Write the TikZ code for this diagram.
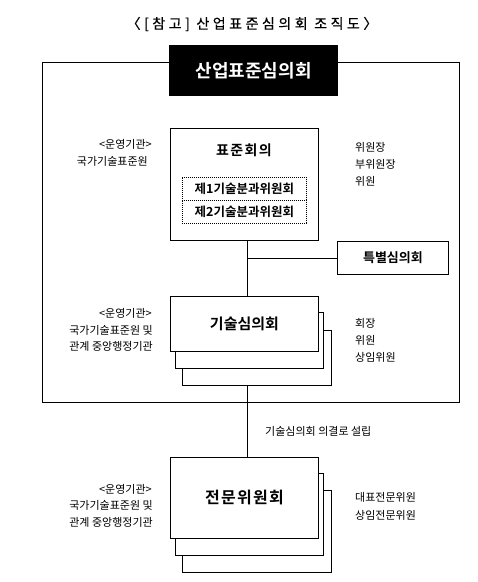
\documentclass[tikz,border=0pt]{standalone}
\usepackage{fontspec}
\setmainfont{Noto Sans CJK KR}[BoldFont={Noto Sans CJK KR Bold}]
\begin{document}
\begin{tikzpicture}[x=1pt,y=-1pt,
  box/.style={draw, line width=0.9pt, fill=white, inner sep=0pt},
  dotbox/.style={draw, line width=0.7pt, dash pattern=on 0.9pt off 1.1pt, minimum width=124pt, minimum height=23pt, anchor=north west, inner sep=0pt, font=\fontsize{12.5}{14}\selectfont\bfseries},
  lbl/.style={font=\fontsize{11}{13}\selectfont, inner sep=0pt},
  lineL/.style={lbl, anchor=east},
  lineR/.style={lbl, anchor=west},
  conn/.style={line width=0.9pt}]
\useasboundingbox (0,0) rectangle (478,582);

% title
\node[inner sep=0pt, font=\fontsize{14}{16}\selectfont\addfontfeatures{LetterSpace=25,FakeBold=0.6}] (title) at (252,24) {〈[참고] 산업표준심의회 조직도〉};

% outer frame
\draw[line width=0.9pt] (42,62) rectangle (459,402);
\node[fill=black, text=white, minimum width=169pt, minimum height=51pt, anchor=north west, inner sep=0pt, font=\fontsize{18}{20}\selectfont\bfseries] (sanup) at (169,45) {산업표준심의회};

% 표준회의
\node[box, minimum width=148pt, minimum height=112pt, anchor=north west] (pyo) at (170,128) {};
\node[inner sep=0pt, font=\fontsize{14}{16}\selectfont\bfseries\addfontfeatures{LetterSpace=10}] (pyoT) at (244,150) {표준회의};
\node[dotbox] (bun1) at (182,177) {제1기술분과위원회};
\node[dotbox] (bun2) at (182,200) {제2기술분과위원회};

\node[lineL] (o1a) at (152,144) {<운영기관>};
\node[lineL] (o1b) at (148,161) {국가기술표준원};
\node[lineR] (r1a) at (355,147) {위원장};
\node[lineR] (r1b) at (355,164) {부위원장};
\node[lineR] (r1c) at (355,181) {위원};

% 특별심의회
\node[box, minimum width=111pt, minimum height=33pt, anchor=north west, font=\fontsize{13}{15}\selectfont\bfseries] (teuk) at (337,241) {특별심의회};

% 기술심의회 (stack)
\node[box, minimum width=149pt, minimum height=55pt, anchor=north west] (gis3) at (182,330) {};
\node[box, minimum width=148pt, minimum height=56pt, anchor=north west] (gis2) at (175,312) {};
\node[box, minimum width=148pt, minimum height=55pt, anchor=north west, font=\fontsize{15}{17}\selectfont\bfseries] (gis) at (170,296) {기술심의회};

\node[lineL] (o2a) at (152,313) {<운영기관>};
\node[lineL] (o2b) at (153,330) {국가기술표준원 및};
\node[lineL] (o2c) at (153,346) {관계 중앙행정기관};
\node[lineR] (r2a) at (355,323) {회장};
\node[lineR] (r2b) at (355,340) {위원};
\node[lineR] (r2c) at (355,357) {상임위원};

% 전문위원회 (stack)
\node[box, minimum width=149pt, minimum height=82pt, anchor=north west] (jm3) at (182,490) {};
\node[box, minimum width=148pt, minimum height=82pt, anchor=north west] (jm2) at (175,473) {};
\node[box, minimum width=148pt, minimum height=81pt, anchor=north west, font=\fontsize{16}{18}\selectfont\bfseries\addfontfeatures{LetterSpace=8}] (jm) at (170,457) {전문위원회};

\node[lineL] (o3a) at (152,489) {<운영기관>};
\node[lineL] (o3b) at (153,505) {국가기술표준원 및};
\node[lineL] (o3c) at (153,522) {관계 중앙행정기관};
\node[lineR] (r3a) at (355,497) {대표전문위원};
\node[lineR] (r3b) at (355,515) {상임전문위원};

\node[lbl, anchor=west] (note) at (265,431) {기술심의회 의결로 설립};

% connectors
\coordinate (spine) at (247,0);
\draw[conn] (pyo.south -| spine) -- (gis.north -| spine);
\draw[conn] (spine |- teuk.west) -- (teuk.west);
\draw[conn] (gis3.south -| spine) -- (jm.north -| spine);
\end{tikzpicture}
\end{document}
